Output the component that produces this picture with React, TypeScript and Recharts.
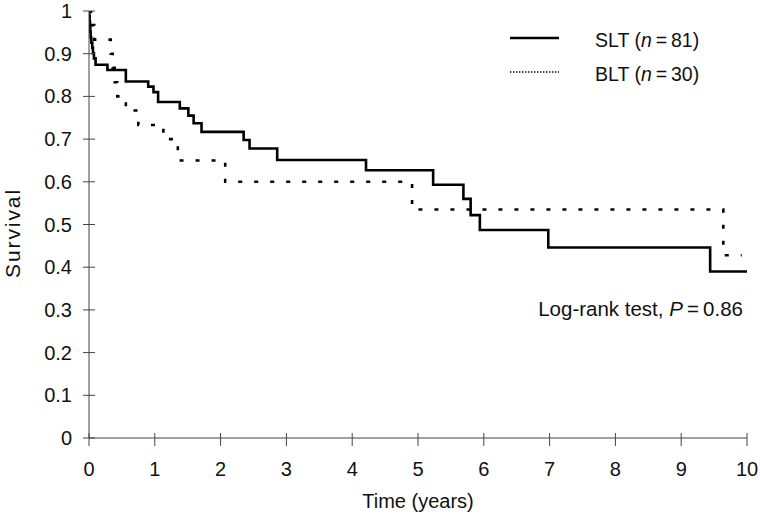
import React from 'react';
import { LineChart, Line, XAxis, YAxis, Customized } from 'recharts';

// Kaplan-Meier steps (time in years, survival fraction)
const sltTime = [0, 0.005, 0.01, 0.015, 0.02, 0.025, 0.035, 0.05, 0.06, 0.075, 0.1, 0.28, 0.56, 0.9, 0.98, 1.05, 1.38, 1.51, 1.59, 1.71, 2.35, 2.44, 2.86, 4.21, 5.23, 5.69, 5.8, 5.94, 6.98, 9.44, 10];
const sltSurvival = [1, 0.988, 0.975, 0.963, 0.951, 0.938, 0.926, 0.914, 0.901, 0.889, 0.874, 0.862, 0.835, 0.823, 0.81, 0.787, 0.772, 0.755, 0.737, 0.717, 0.698, 0.678, 0.651, 0.627, 0.593, 0.56, 0.522, 0.487, 0.446, 0.39, 0.39];

const bltTime = [0, 0.03, 0.08, 0.33, 0.36, 0.39, 0.43, 0.56, 0.75, 1.13, 1.35, 2.07, 4.91, 9.64, 9.92];
const bltSurvival = [1, 0.967, 0.933, 0.9, 0.867, 0.833, 0.8, 0.767, 0.733, 0.7, 0.65, 0.6, 0.535, 0.428, 0.428];

const xTicks = [0, 1, 2, 3, 4, 5, 6, 7, 8, 9, 10];
const yTicks = [0, 0.1, 0.2, 0.3, 0.4, 0.5, 0.6, 0.7, 0.8, 0.9, 1];

const sltData = sltTime.map((t, i) => ({ t, s: sltSurvival[i] }));
const bltData = bltTime.map((t, i) => ({ t, s: bltSurvival[i] }));

const FONT = '"Liberation Sans", Arial, sans-serif';
const INK = '#111';
const AXIS = '#444';

const YTick = (props: any) => {
  const { x, y, payload } = props;
  const label = String(Math.round(payload.value * 10) / 10);
  return (
    <g>
      <line x1={x - 6} x2={x + 6} y1={y} y2={y} stroke={AXIS} strokeWidth={1} />
      <text x={x - 17} y={y + 7} textAnchor="end" fontSize={20} fontFamily={FONT} fill={INK}>
        {label}
      </text>
    </g>
  );
};

const XTick = (props: any) => {
  const { x, y, payload } = props;
  return (
    <g>
      <line x1={x} x2={x} y1={y - 5} y2={y + 8} stroke={AXIS} strokeWidth={1} />
      <text x={x} y={y + 38} textAnchor="middle" fontSize={20} fontFamily={FONT} fill={INK}>
        {payload.value}
      </text>
    </g>
  );
};

const Extras = () => (
  <g fontFamily={FONT} fill={INK}>
    <text x={20} y={233} fontSize={21} textAnchor="middle" letterSpacing={1.9} transform="rotate(-90 20 233)">
      Survival
    </text>
    <text x={418} y={508} fontSize={20} textAnchor="middle">
      Time (years)
    </text>
    <line x1={510} x2={559} y1={38} y2={38} stroke="#000" strokeWidth={2.6} />
    <text x={595} y={47} fontSize={19.5}>
      SLT (<tspan fontStyle="italic">n</tspan>{'\u2009=\u2009'}81)
    </text>
    <line x1={510} x2={559} y1={72} y2={72} stroke="#000" strokeWidth={1.4} strokeDasharray="1.4 1.6" />
    <text x={595} y={81} fontSize={19.5}>
      BLT (<tspan fontStyle="italic">n</tspan>{'\u2009=\u2009'}30)
    </text>
    <text x={743} y={316} fontSize={20.5} textAnchor="end">
      Log-rank test, <tspan fontStyle="italic">P</tspan>{'\u2009=\u2009'}0.86
    </text>
  </g>
);

export default function App() {
  return (
    <div style={{ position: 'absolute', left: 0, top: 0, width: 760, height: 516, background: '#fff' }}>
      <LineChart width={760} height={516} margin={{ top: 11, right: 13, bottom: 0, left: 0 }}>
        <XAxis
          dataKey="t"
          type="number"
          domain={[0, 10]}
          ticks={xTicks}
          height={78}
          axisLine={{ stroke: AXIS, strokeWidth: 1 }}
          tickLine={false}
          tickSize={0}
          tickMargin={0}
          tick={<XTick />}
          allowDataOverflow
        />
        <YAxis
          dataKey="s"
          type="number"
          domain={[0, 1]}
          ticks={yTicks}
          width={89}
          axisLine={{ stroke: AXIS, strokeWidth: 1 }}
          tickLine={false}
          tickSize={0}
          tickMargin={0}
          tick={<YTick />}
          allowDataOverflow
        />
        <Line
          data={sltData}
          dataKey="s"
          type="stepAfter"
          stroke="#000"
          strokeWidth={2.6}
          dot={false}
          activeDot={false}
          isAnimationActive={false}
        />
        <Line
          data={bltData}
          dataKey="s"
          type="stepAfter"
          stroke="#000"
          strokeWidth={2.6}
          strokeDasharray="4 12"
          dot={false}
          activeDot={false}
          isAnimationActive={false}
        />
        <Customized component={<Extras />} />
      </LineChart>
    </div>
  );
}
